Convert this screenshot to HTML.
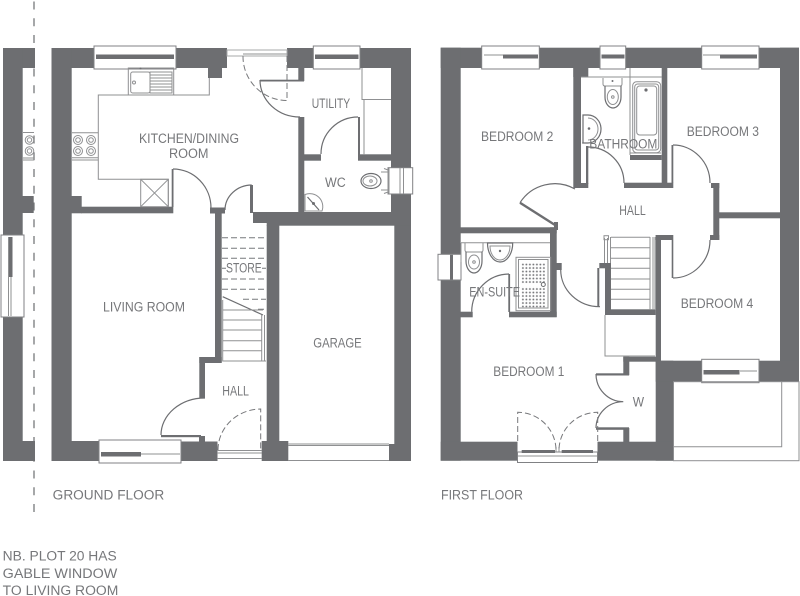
<!DOCTYPE html>
<html><head><meta charset="utf-8"><style>
html,body{margin:0;padding:0;background:#fff}
svg{display:block}
text{font-family:"Liberation Sans",sans-serif;font-size:13.4px;fill:#76777a}
.w{fill:#6d6e71}
.l{fill:none;stroke:#8f9092;stroke-width:1}
.a{fill:none;stroke:#6d6e71;stroke-width:1.2}
.d{fill:none;stroke:#77787b;stroke-width:1;stroke-dasharray:6 3}
.win{fill:#fff;stroke:#808184;stroke-width:1}
.b{fill:#6d6e71}
</style></head><body>
<svg width="800" height="596" viewBox="0 0 800 596" xmlns="http://www.w3.org/2000/svg">
<defs><pattern id="dots" x="521.7" y="263.3" width="3.5" height="3.5" patternUnits="userSpaceOnUse"><circle cx="1.2" cy="1.2" r="0.95" fill="#77787b"/></pattern></defs>

<!-- dashed party line -->
<line x1="34" y1="1.5" x2="34" y2="514" stroke="#77787b" stroke-width="1.3" stroke-dasharray="8 8.75"/>

<!-- mirrored slice -->
<rect class="w" x="3" y="48" width="32" height="20"/>
<rect class="w" x="3" y="48" width="19.7" height="413"/>
<rect class="w" x="3" y="441" width="32" height="20"/>
<rect class="w" x="22" y="196" width="11.7" height="17"/>
<path class="l" d="M23 132.5H34M23 160H34M23 158H34"/>
<circle class="l" cx="29.5" cy="140" r="4.3"/><circle class="l" cx="29.5" cy="140" r="2.2"/>
<circle class="l" cx="29.5" cy="151" r="4.3"/><circle class="l" cx="29.5" cy="151" r="2.2"/>
<rect class="win" x="1" y="235" width="23" height="82"/>
<rect class="w" x="9" y="237" width="3.5" height="40"/>
<path class="l" d="M11 277V316M8.5 237V316"/>

<!-- GROUND FLOOR walls -->
<g class="w">
<rect x="51.5" y="48" width="175.5" height="20"/>
<rect x="208" y="68" width="14" height="10"/>
<rect x="287" y="48" width="124" height="20"/>
<rect x="51.5" y="48" width="20.2" height="413"/>
<rect x="391" y="48" width="20" height="120"/>
<rect x="391" y="194" width="20" height="31"/>
<rect x="394.3" y="225" width="16.7" height="236"/>
<rect x="298.3" y="68" width="6" height="13"/>
<rect x="260" y="79.7" width="44" height="1.8"/>
<rect x="298.3" y="117" width="6" height="96"/>
<rect x="304" y="154.3" width="17" height="6.4"/>
<rect x="358" y="154.3" width="33" height="6.4"/>
<rect x="358" y="117" width="2" height="38"/>
<rect x="253" y="212" width="158" height="11"/>
<rect x="266.7" y="212" width="144" height="13.7"/>
<rect x="250" y="185" width="3" height="28"/>
<rect x="71" y="196" width="10.7" height="17.3"/>
<rect x="81" y="206.7" width="92.3" height="6.6"/>
<rect x="171.7" y="169" width="1.8" height="38"/>
<rect x="210" y="207.5" width="15" height="6"/>
<rect x="215" y="207.5" width="6.7" height="155"/>
<rect x="199.3" y="357" width="22.4" height="6"/>
<rect x="199.3" y="357" width="5.7" height="41.5"/>
<rect x="161" y="435" width="40" height="2.2"/>
<rect x="199" y="436" width="6" height="6"/>
<rect x="51.5" y="441" width="48" height="20"/>
<rect x="180" y="441.5" width="37.5" height="19.5"/>
<rect x="266.7" y="225" width="12.6" height="225"/>
<rect x="261.7" y="441" width="26.6" height="20"/>
<rect x="389" y="444" width="22" height="17"/>
</g>

<!-- back door top lines -->
<path class="l" d="M227 50H287M227 56H287M243 54H287"/>
<rect x="227" y="50" width="60" height="6" fill="none" stroke="#a7a8aa"/>

<!-- ground windows -->
<rect class="win" x="94" y="46" width="82" height="23"/>
<rect class="w" x="96" y="54.5" width="78" height="4.5"/>
<rect class="win" x="313.3" y="46" width="46.7" height="23"/>
<rect class="w" x="315" y="54.5" width="43.5" height="4.5"/>
<rect class="win" x="99" y="440" width="82" height="23"/>
<rect class="w" x="101" y="452" width="40" height="4.5"/>
<path class="l" d="M141 454H180"/>
<rect class="win" x="388" y="167.7" width="24.7" height="26.3"/>
<path class="l" d="M403.5 168V194M400 168V194"/>

<!-- kitchen fittings -->
<path class="l" d="M98.3 132.7V95H209.3V78M98.3 132.7V179.3H168.3V207M72 132.7H98.3M72 160H98.3M72 157.7H98.3M98.3 160V179.3"/>
<rect class="l" x="128.3" y="68" width="45.4" height="27"/>
<rect class="l" x="130.7" y="72" width="19.3" height="21" rx="2"/>
<circle class="l" cx="134" cy="82.5" r="1.5"/><circle class="b" cx="140.5" cy="68.5" r="1"/>
<rect class="l" x="150" y="72" width="22" height="21"/>
<path class="l" d="M150 75H172M150 78H172M150 81H172M150 84H172M150 87H172M150 90H172"/>
<rect class="l" x="140.7" y="179.3" width="27.6" height="27.4"/>
<path class="l" d="M140.7 179.3L168.3 206.7M168.3 179.3L140.7 206.7"/>
<g class="l"><circle cx="78" cy="140" r="4.5"/><circle cx="78" cy="140" r="2.3"/><circle cx="91" cy="140" r="4.5"/><circle cx="91" cy="140" r="2.3"/><circle cx="78" cy="151" r="4.5"/><circle cx="78" cy="151" r="2.3"/><circle cx="91" cy="151" r="4.5"/><circle cx="91" cy="151" r="2.3"/></g>

<!-- utility cupboard, wc -->
<path class="l" d="M362 68V99.5H391M364 99.5V155"/>
<path class="l" d="M389 168V194M384 168.5L388 170V192L384 193.5M381 172H388V190H381"/>
<ellipse class="a" cx="371" cy="181" rx="10" ry="7.5"/><ellipse class="l" cx="370" cy="181" rx="7" ry="5"/><circle class="l" cx="371" cy="181" r="1.3"/>
<path class="l" d="M305 211V194.5A13 13 0 0 1 322 211Z"/><path class="a" d="M307.5 197L319 210"/><circle class="b" cx="313.5" cy="203.5" r="1.5"/>

<!-- ground doors -->
<path class="a" d="M260 80A40 37 0 0 0 300 117"/>
<path class="a" d="M358 117A37 37 0 0 0 321 154"/>
<path class="a" d="M173 169A38 39 0 0 1 211 208"/>
<path class="a" d="M251.7 185A27 25 0 0 0 225 210"/>
<path class="a" d="M205 398A44 37 0 0 0 161 435"/>
<path class="d" d="M243 56A44 44 0 0 0 287 100.5V56"/>
<path class="d" d="M218 450A43 41 0 0 1 260.7 409V449"/>
<path class="l" d="M217 450.5H262M217 453H262M217 458.5H262"/>

<!-- store & stairs -->
<path class="d" d="M222 237.7H266M222 248.3H266M222 258.3H266M222 268.3H226M262 268.3H266M222 279H266M222 289.3H266M243 299.3H266M258 309.3H266"/>
<path class="a" d="M222.7 296.7L263 315"/>
<path class="l" d="M222.7 300V361H266M222.7 310H263M222.7 320H262M222.7 330H262M222.7 340.7H262M222.7 350.7H262M261.7 315V361M264.5 315V361"/>

<!-- garage door -->
<path class="l" d="M288 444H389M288 445.5H389M288 460.5H389"/>

<!-- FIRST FLOOR walls -->
<g class="w">
<rect x="440.7" y="47.7" width="358.3" height="20.3"/>
<rect x="440.7" y="47.7" width="20" height="413"/>
<rect x="780" y="47.7" width="19" height="334"/>
<rect x="573.3" y="68" width="7.7" height="120"/>
<rect x="573.3" y="68" width="15" height="9"/>
<rect x="578" y="183" width="10.3" height="5"/>
<rect x="586" y="146" width="2.3" height="38"/>
<rect x="624" y="182.7" width="49.3" height="5.3"/>
<rect x="661.7" y="68" width="5.6" height="116"/>
<rect x="671.5" y="145" width="1.8" height="38"/>
<rect x="630" y="155" width="31.7" height="5"/>
<rect x="711" y="183" width="8.3" height="5"/>
<rect x="713.3" y="183" width="6" height="57"/>
<rect x="710" y="235" width="9.3" height="5"/>
<rect x="719" y="212.3" width="61" height="6"/>
<rect x="655.7" y="235" width="17.6" height="5"/>
<rect x="655.7" y="235" width="5.3" height="127"/>
<rect x="671.7" y="240" width="1.6" height="38"/>
<rect x="460" y="227.3" width="96.7" height="6"/>
<rect x="550" y="227.3" width="6.7" height="89.7"/>
<rect x="554" y="222" width="4" height="8"/>
<rect x="556" y="263" width="5.7" height="7"/>
<rect x="509" y="311.7" width="47.7" height="5.6"/>
<rect x="508.3" y="274" width="1.8" height="38"/>
<rect x="460" y="311.7" width="12.7" height="5.6"/>
<rect x="599.3" y="263" width="11.7" height="5.3"/>
<rect x="605" y="263" width="6" height="52"/>
<rect x="605" y="309.3" width="50.7" height="5.7"/>
<rect x="597.3" y="268" width="2" height="38.5"/>
<rect x="623.3" y="356.7" width="37.7" height="5"/>
<rect x="623.3" y="356.7" width="6" height="18.5"/>
<rect x="596" y="373.3" width="33" height="2.2"/>
<rect x="596" y="427.3" width="33" height="2.5"/>
<rect x="623.3" y="428" width="6" height="14"/>
<rect x="655.7" y="360.7" width="17.6" height="100"/>
<rect x="655.7" y="360.7" width="143.3" height="21"/>
<rect x="597.5" y="441.7" width="76" height="19"/>
<rect x="440.7" y="441.7" width="76.8" height="19"/>
</g>
<path d="M520 202.7L555 225" fill="none" stroke="#6d6e71" stroke-width="2.4"/>

<!-- first windows -->
<rect class="win" x="481.7" y="46" width="57.6" height="23"/>
<rect class="w" x="503" y="54.5" width="35" height="4"/>
<path class="l" d="M484 55H503"/>
<rect class="win" x="600" y="46" width="25.7" height="23"/>
<rect class="w" x="601.5" y="54.5" width="23" height="4"/>
<rect class="win" x="701.7" y="46" width="57.3" height="23"/>
<rect class="w" x="720" y="54.5" width="37" height="4"/>
<path class="l" d="M703 55H720"/>
<rect class="win" x="701.7" y="359.3" width="57.3" height="23.4"/>
<rect class="w" x="703.5" y="370" width="36" height="4.5"/>
<path class="l" d="M740 371H757"/>
<rect class="win" x="438" y="254.3" width="23" height="25.7"/>
<rect class="w" x="450" y="254.8" width="3" height="24.7"/>
<rect x="517.5" y="452" width="80" height="10.5" fill="#fff" stroke="#808184"/>
<rect class="w" x="521.7" y="450" width="33.3" height="3"/>
<rect class="w" x="561.7" y="450" width="31.3" height="3"/>
<path class="l" d="M518 456H597M556 447V452M559 447V452"/>

<!-- bathroom -->
<path class="l" d="M581 77H662M630 68V155M582 143H585M630 153H661"/>
<rect class="l" x="632.7" y="81.7" width="28" height="71" rx="4"/>
<rect class="l" x="634.7" y="84" width="24" height="66" rx="3"/>
<rect class="l" x="636.7" y="86" width="20" height="49" rx="3"/>
<circle class="b" cx="646" cy="90" r="1.6"/>
<path class="l" d="M603 78V84Q603 86 605 86H620Q622 86 622 84V78"/>
<path class="a" d="M605 86V97A8 11 0 0 0 621 97V86"/><ellipse class="l" cx="612.8" cy="97" rx="5.5" ry="7.5"/><circle class="l" cx="612.8" cy="97" r="1.3"/><circle class="b" cx="612.5" cy="81" r="1"/>
<path class="a" d="M583 115H588A13 14 0 0 1 588 143H583Z"/><path class="l" d="M588 118A10 11 0 0 1 588 140"/><circle class="b" cx="589" cy="128.5" r="1.3"/>

<!-- en-suite -->
<path class="l" d="M461 242.7H550M461 243V262"/>
<path class="l" d="M465 243V250Q465 252 467 252H481Q483 252 483 250V243"/>
<path class="a" d="M466 252V261A8 12 0 0 0 482 261V252"/><ellipse class="l" cx="474" cy="262" rx="5.5" ry="7"/><circle class="l" cx="474" cy="262" r="1.3"/>
<path class="a" d="M487.5 243H512.7A12.6 19 0 0 1 487.5 243Z"/><path class="l" d="M490 246H510A10 14 0 0 1 490 246Z"/><circle class="b" cx="500" cy="251" r="1.2"/>
<rect class="l" x="516" y="257.3" width="34.7" height="53.4"/>
<rect class="l" x="518.5" y="259.5" width="29.5" height="48.5"/>
<rect x="521.7" y="263.3" width="23.3" height="20" fill="url(#dots)"/>
<rect x="521.7" y="286.7" width="23.3" height="20.6" fill="url(#dots)"/>
<circle cx="543.3" cy="284.5" r="2" fill="#fff" stroke="#6d6e71"/>

<!-- first stairs -->
<path class="l" d="M611 237.3H650M611 247.7H650M611 258.3H650M611 268.3H650M611 279H650M611 289.3H650M611 299.3H650"/>
<path class="l" d="M650 237V310M653 237V310M655 237V310M604.5 238V263M607.5 238V263M610.5 237V263"/>
<rect class="l" x="604" y="235.7" width="4.5" height="4"/>
<path class="l" d="M605 315V356H655"/>

<!-- first doors -->
<path class="a" d="M575 189A41.3 41.3 0 0 0 520 202.7"/>
<path class="a" d="M588 147A36 36 0 0 1 624 183"/>
<path class="a" d="M673 145A37 38 0 0 1 710 183"/>
<path class="a" d="M710 240A37 38 0 0 1 673 278"/>
<path class="a" d="M560.7 270A39 37 0 0 0 600 306.7"/>
<path class="a" d="M509 274A37.5 38 0 0 0 471.7 311.7"/>
<path class="a" d="M596 374A27.3 27.7 0 0 0 623.3 401.7A27.3 26.5 0 0 0 596 428"/>
<path class="d" d="M517.7 441V412.3A38.3 38 0 0 1 556 450M597.7 441V412.3A38.7 38 0 0 0 559 450"/>

<!-- terrace -->
<rect class="l" x="673.5" y="381.7" width="125.5" height="79"/>
<path class="l" d="M781.7 381.7V446.7H673.5"/>

<!-- labels -->
<text x="139" y="143" textLength="100" lengthAdjust="spacingAndGlyphs">KITCHEN/DINING</text>
<text x="169" y="158" textLength="39.5" lengthAdjust="spacingAndGlyphs">ROOM</text>
<text x="311.7" y="108" textLength="38.5" lengthAdjust="spacingAndGlyphs">UTILITY</text>
<text x="325" y="187" textLength="20.7" lengthAdjust="spacingAndGlyphs">WC</text>
<text x="103" y="311.5" textLength="82" lengthAdjust="spacingAndGlyphs">LIVING ROOM</text>
<text x="226" y="272.3" textLength="35.7" lengthAdjust="spacingAndGlyphs">STORE</text>
<text x="222.3" y="395.7" textLength="26.7" lengthAdjust="spacingAndGlyphs">HALL</text>
<text x="313.3" y="347.7" textLength="48.4" lengthAdjust="spacingAndGlyphs">GARAGE</text>
<text x="52.7" y="499.5" textLength="111.6" lengthAdjust="spacingAndGlyphs">GROUND FLOOR</text>
<text x="441" y="499.5" textLength="82" lengthAdjust="spacingAndGlyphs">FIRST FLOOR</text>
<text x="2.7" y="560.5" textLength="114" lengthAdjust="spacingAndGlyphs">NB. PLOT 20 HAS</text>
<text x="2.7" y="578" textLength="114.6" lengthAdjust="spacingAndGlyphs">GABLE WINDOW</text>
<text x="2.7" y="595" textLength="115.6" lengthAdjust="spacingAndGlyphs">TO LIVING ROOM</text>
<text x="481" y="141" textLength="72.3" lengthAdjust="spacingAndGlyphs">BEDROOM 2</text>
<text x="589.3" y="148.3" textLength="68" lengthAdjust="spacingAndGlyphs">BATHROOM</text>
<text x="686.7" y="136" textLength="72.3" lengthAdjust="spacingAndGlyphs">BEDROOM 3</text>
<text x="619.3" y="215" textLength="26.4" lengthAdjust="spacingAndGlyphs">HALL</text>
<text x="680.7" y="308" textLength="72.6" lengthAdjust="spacingAndGlyphs">BEDROOM 4</text>
<text x="469.3" y="296.5" textLength="50.7" lengthAdjust="spacingAndGlyphs">EN-SUITE</text>
<text x="493.3" y="376" textLength="71" lengthAdjust="spacingAndGlyphs">BEDROOM 1</text>
<text x="632.7" y="406.7" textLength="11.3" lengthAdjust="spacingAndGlyphs">W</text>
</svg>
</body></html>
